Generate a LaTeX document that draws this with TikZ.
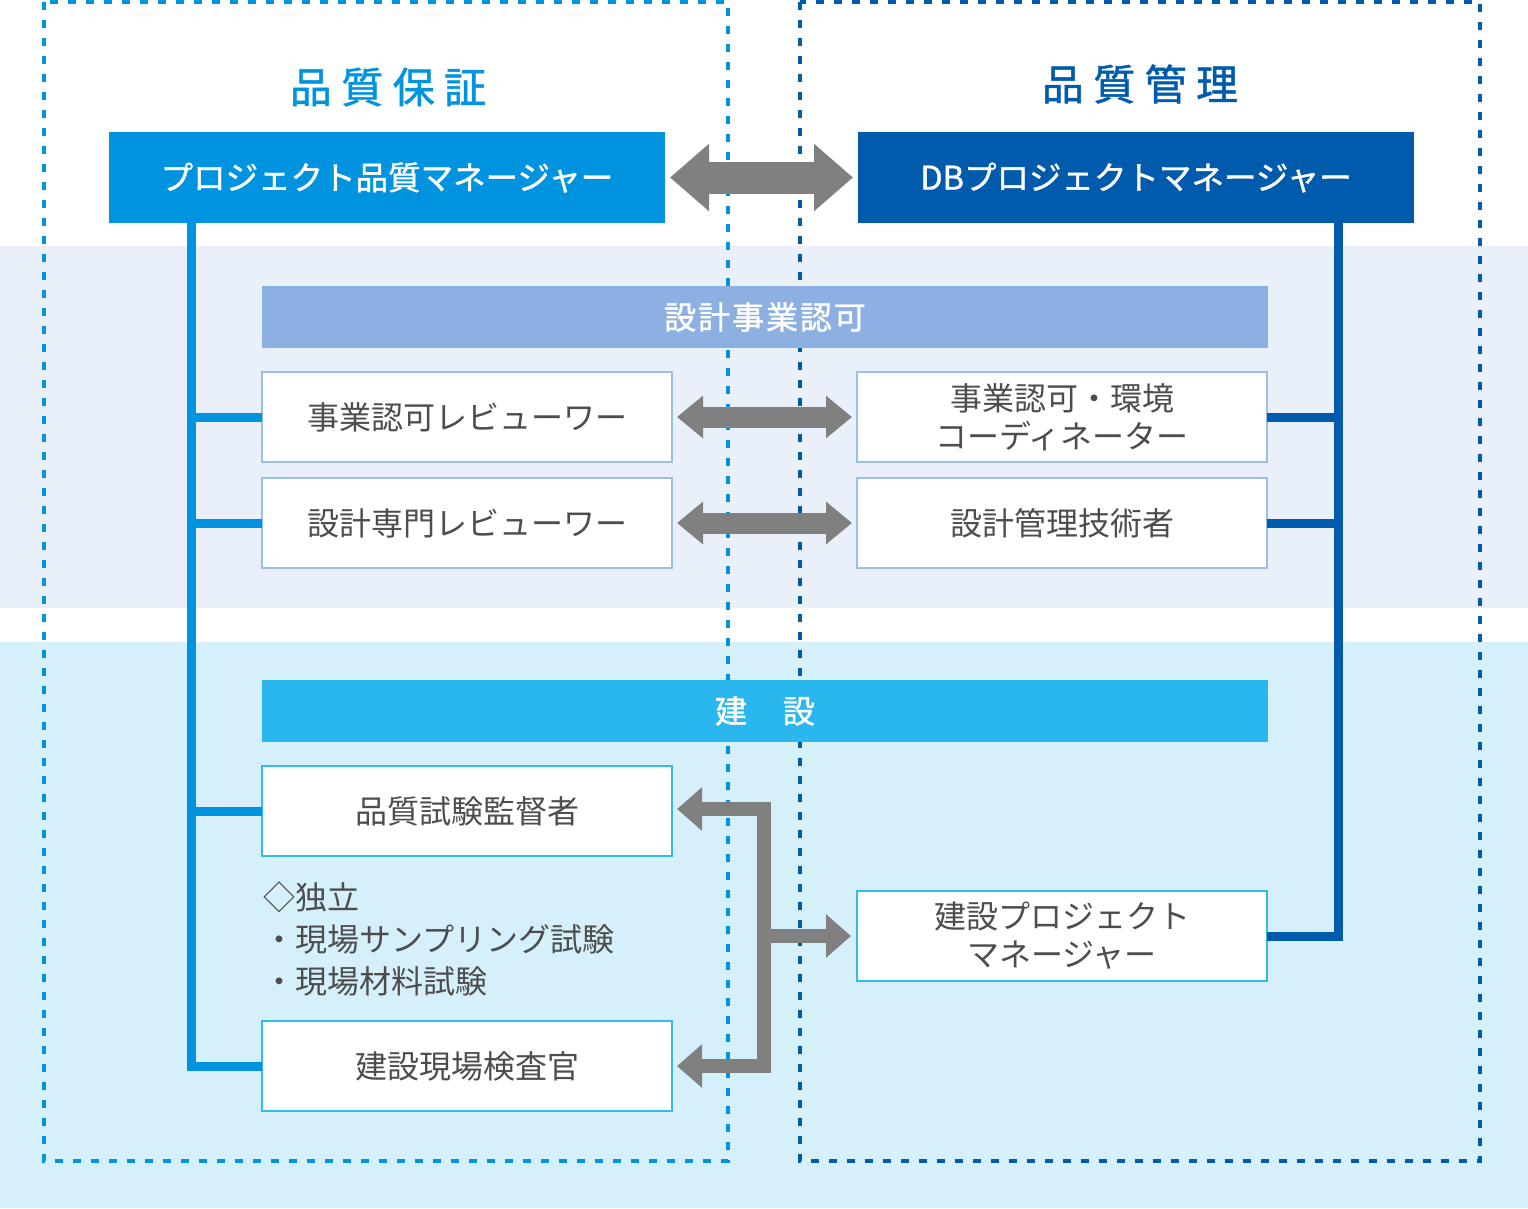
\documentclass[tikz,border=0pt]{standalone}
\usepackage{fontspec}
\setmainfont{Noto Sans CJK JP}
\newfontfamily\medfont[FakeBold=1.2]{Noto Sans CJK JP}
\usepackage{xcolor}
\usetikzlibrary{arrows.meta, positioning, calc}

\definecolor{qablue}{HTML}{0094E0}
\definecolor{dbblue}{HTML}{005BAC}
\definecolor{designbg}{HTML}{E9F0FA}
\definecolor{buildbg}{HTML}{D5F0FB}
\definecolor{designbar}{HTML}{8DB0E2}
\definecolor{designedge}{HTML}{9CBDE8}
\definecolor{buildbar}{HTML}{2AB7EE}
\definecolor{buildedge}{HTML}{33BBEE}
\definecolor{arrowgray}{HTML}{808080}
\definecolor{textgray}{HTML}{4D4D4D}

\begin{document}
\begin{tikzpicture}[
            x=1pt, y=-1pt,
            frame/.style={line width=3.5pt, dash pattern=on 8pt off 10pt},
            heading/.style={font=\medfont\fontsize{42}{48}\selectfont, inner sep=0pt},
            topbox/.style={rectangle, minimum width=556pt, minimum height=91pt,
                           inner sep=0pt, outer sep=0pt, text=white,
                           font=\medfont\fontsize{32.5}{38}\selectfont},
            bar/.style={rectangle, minimum width=1006pt, minimum height=62pt,
                        inner sep=0pt, outer sep=0pt, text=white,
                        font=\medfont\fontsize{32}{38}\selectfont\addfontfeature{LetterSpace=6}},
            designbox/.style={rectangle, draw=designedge, line width=2pt, fill=white,
                              minimum width=410pt, minimum height=90pt, inner sep=0pt,
                              outer sep=0pt, align=center, text=textgray,
                              font=\fontsize{32}{38}\selectfont},
            buildbox/.style={designbox, draw=buildedge},
            note/.style={align=left, inner sep=0pt, text=textgray,
                         font=\fontsize{32}{42}\selectfont},
            qaline/.style={qablue, line width=9pt},
            dbline/.style={dbblue, line width=9pt},
            bigarrow/.style={arrowgray, line width=32pt,
                             {Triangle[width=65pt, length=39pt]}-{Triangle[width=65pt, length=39pt]}},
            midarrow/.style={arrowgray, line width=21pt,
                             {Triangle[width=41pt, length=26pt]}-{Triangle[width=41pt, length=26pt]}},
            forkarrow/.style={arrowgray, line width=14pt, line join=miter,
                              -{Triangle[width=42pt, length=25pt]}}
        ]

        % ===== BACKGROUND BANDS =====
        \useasboundingbox (0,0) rectangle (1528,1208);
        \fill[designbg] (0,246) rectangle (1528,608);
        \fill[buildbg] (0,642) rectangle (1528,1208);

        % ===== DASHED FRAMES =====
        \draw[frame, draw=qablue] (44,2) rectangle (728,1161);
        \draw[frame, draw=dbblue] (800,2) rectangle (1480,1161);

        % ===== HEADINGS =====
        \node[heading, text=qablue] (qa) at (388,87) {品 質 保 証};
        \node[heading, text=dbblue] (qc) at (1140,84) {品 質 管 理};

        % ===== TOP MANAGERS =====
        \node[topbox, fill=qablue] (pqm) at (387,177.5) {プロジェクト品質マネージャー};
        \node[topbox, fill=dbblue] (dbpm) at (1136,177.5) {DBプロジェクトマネージャー};

        % ===== DESIGN =====
        \node[bar, fill=designbar] (design) at (765,317) {設計事業認可};
        \node[designbox] (rev1) at (467,417) {事業認可レビューワー};
        \node[designbox, below=16pt of rev1] (rev2) {設計専門レビューワー};
        \node[designbox] (envc) at (1062,417) {事業認可・環境\\コーディネーター};
        \node[designbox, below=16pt of envc] (dmgr) {設計管理技術者};

        % ===== CONSTRUCTION =====
        \node[bar, fill=buildbar] (build) at (765,711) {建　設};
        \node[buildbox] (tsup) at (467,811) {品質試験監督者};
        \node[buildbox] (insp) at (467,1066) {建設現場検査官};
        \node[buildbox] (cpm) at (1062,936) {建設プロジェクト\\マネージャー};
        \node[note, anchor=west] (indep) at (263,939) {◇独立\\・現場サンプリング試験\\・現場材料試験};

        % ===== REPORTING LINES =====
        \coordinate (ltrunk) at (191,0);
        \coordinate (rtrunk) at (1338,0);
        \draw[qaline] (pqm.south -| ltrunk) |- (insp.west);
        \foreach \n in {rev1, rev2, tsup}
            \draw[qaline] (ltrunk |- \n.west) -- (\n.west);
        \draw[dbline] (dbpm.south -| rtrunk) |- (cpm.east);
        \foreach \n in {envc, dmgr}
            \draw[dbline] (rtrunk |- \n.east) -- (\n.east);

        % ===== GRAY ARROWS =====
        \draw[bigarrow] ([xshift=5pt]pqm.east) -- ([xshift=-5pt]dbpm.west);
        \draw[midarrow] ([xshift=5pt]rev1.east) -- ([xshift=-5pt]envc.west);
        \draw[midarrow] ([xshift=5pt]rev2.east) -- ([xshift=-5pt]dmgr.west);

        % inspection fork (field manager <-> QA staff)
        \coordinate (fork) at (764,936);
        \draw[forkarrow] (fork) |- ([xshift=5pt,yshift=2pt]tsup.east);
        \draw[forkarrow] (fork) |- ([xshift=5pt]insp.east);
        \draw[forkarrow] (fork) -- ([xshift=-6pt]cpm.west);

        \end{tikzpicture}
\end{document}
